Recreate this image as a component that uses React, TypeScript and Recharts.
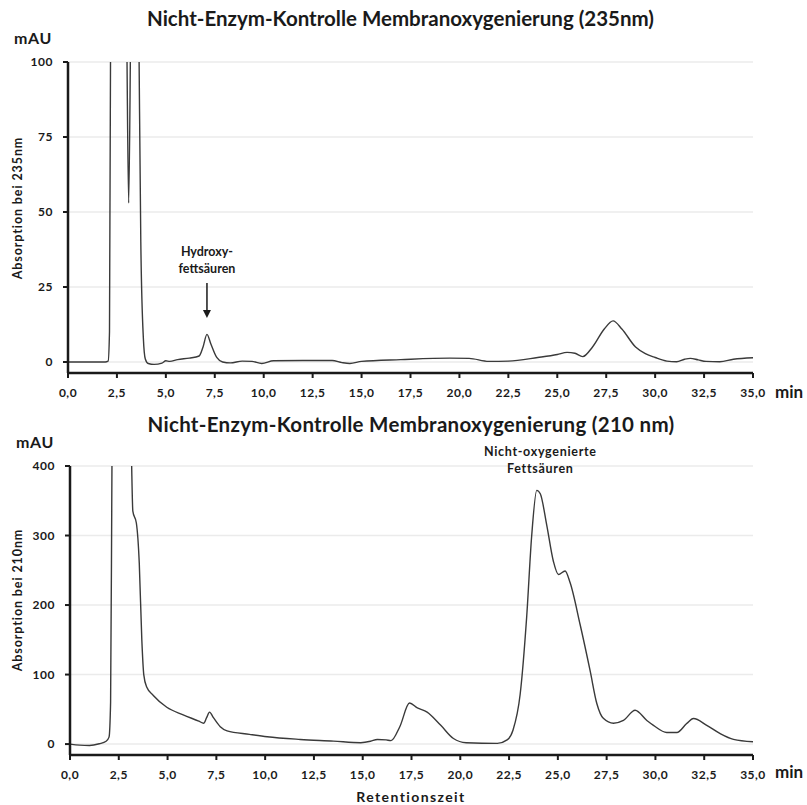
import React from "react";
import { LineChart, Line, XAxis, YAxis, CartesianGrid, ReferenceDot } from "recharts";

const FONT = "Lato, 'Open Sans', sans-serif";

const xTicks = [0, 2.5, 5, 7.5, 10, 12.5, 15, 17.5, 20, 22.5, 25, 27.5, 30, 32.5, 35];
const yTicks235 = [0, 25, 50, 75, 100];
const yTicks210 = [0, 100, 200, 300, 400];

// 235 nm trace (min / mAU)
const time235 = [
  0, 1.9, 2.05, 2.12, 2.2, 2.6, 3.0, 3.1, 3.2, 3.4, 3.62, 3.72, 3.85, 3.95, 4.1, 4.4, 4.8, 5.0, 5.2,
  5.6, 6.2, 6.7, 6.9, 7.1, 7.3, 7.6, 7.9, 8.3, 8.9, 9.4, 9.9, 10.5, 12.0, 13.5, 14.0, 14.4, 15.0,
  17.0, 19.5, 20.5, 21.5, 22.5, 24.0, 25.0, 25.5, 25.9, 26.3, 26.8, 27.4, 27.85, 28.3, 29.0, 29.5,
  30.0, 30.6, 31.1, 31.5, 31.8, 32.2, 32.6, 33.3, 34.0, 35.0,
];
const abs235 = [
  0, 0, 0.3, 10, 150, 250, 110, 53, 110, 250, 110, 40, 8, 1, -0.5, -0.8, -0.4, 0.4, 0.2,
  0.8, 1.3, 2, 5, 9.2, 6, 1.5, 0, -0.3, 0.3, 0.2, -0.5, 0.4, 0.5, 0.5, -0.2, -0.5, 0.2,
  0.8, 1.3, 1.2, 0.2, 0.3, 1.5, 2.5, 3.2, 2.9, 1.8, 5, 11, 13.7, 11, 5, 2.8,
  1.5, 0.3, 0.1, 0.9, 1.2, 0.7, 0.2, 0.1, 0.9, 1.4,
];

// 210 nm trace (min / mAU)
const time210 = [
  0, 0.5, 1.0, 1.5, 1.85, 2.0, 2.08, 2.15, 2.3, 2.7, 3.1, 3.16, 3.22, 3.4, 3.55, 3.68, 3.78, 3.93,
  4.27, 4.96, 5.8, 6.6, 6.85, 7.0, 7.15, 7.35, 7.7, 8.05, 9.2, 10.1, 11.8, 13.5, 14.9, 15.4, 15.75,
  16.2, 16.45, 16.9, 17.4, 17.8, 18.3, 19.0, 19.65, 20.3, 21.9, 22.4, 22.7, 23.07, 23.4, 23.66,
  23.92, 24.1, 24.43, 24.77, 25.03, 25.37, 25.63, 26.14, 26.65, 27.0, 27.33, 27.85, 28.36, 28.96,
  29.56, 29.9, 30.58, 31.1, 31.6, 31.95, 32.63, 33.32, 34.0, 35.0,
];
const abs210 = [
  0, -1.5, -2, 0.5, 4, 10, 60, 400, 900, 1200, 500, 400, 335, 318, 260, 150, 100, 82,
  70, 53, 42, 33, 30, 38, 46, 38, 25, 19, 14, 10.5, 6.7, 4.3, 2, 4, 6.7,
  6, 5, 25, 59, 52, 46, 27, 8, 2, 1, 6, 20, 72, 182, 300,
  365, 360, 315, 263, 244, 249, 232, 172, 106, 58, 37, 30, 34, 48.6,
  34, 27, 16.7, 16.7, 29.5, 36.7, 27, 15, 6.7, 3.3,
];

const data235 = time235.map((t, i) => ({ t, v: abs235[i] }));
const data210 = time210.map((t, i) => ({ t, v: abs210[i] }));

const fmt = (v: number) => v.toFixed(1).replace(".", ",");
const tickStyle = { fontSize: 12, fontWeight: 700, fill: "#1a1a1a", fontFamily: FONT, letterSpacing: 0.5 };
const axisStroke = { stroke: "#1a1a1a", strokeWidth: 2.5 };

const txt = (extra: React.CSSProperties): React.CSSProperties => ({
  position: "absolute",
  fontFamily: FONT,
  fontWeight: 700,
  color: "#1a1a1a",
  whiteSpace: "nowrap",
  lineHeight: 1,
  ...extra,
});

const HydroxyArrow = (p: any) => {
  const { cx, cy } = p;
  return (
    <g fontSize={12.5} fontWeight={700} fontFamily={FONT} fill="#1a1a1a" textAnchor="middle">
      <line x1={cx} y1={cy - 35} x2={cx} y2={cy - 4} stroke="#1a1a1a" strokeWidth={1.5} />
      <path d={`M${cx - 4},${cy - 8} L${cx + 4},${cy - 8} L${cx},${cy} Z`} fill="#1a1a1a" />
      <text x={cx} y={cy - 62}>Hydroxy-</text>
      <text x={cx} y={cy - 45}>fettsäuren</text>
    </g>
  );
};

const FattyLabel = (p: any) => {
  const { cx, cy } = p;
  return (
    <g fontSize={12.5} fontWeight={700} fontFamily={FONT} fill="#1a1a1a" textAnchor="middle" letterSpacing={0.7}>
      <text x={cx} y={cy - 16}>Nicht-oxygenierte</text>
      <text x={cx} y={cy + 1}>Fettsäuren</text>
    </g>
  );
};

export default function App() {
  return (
    <div style={{ position: "absolute", left: 0, top: 0, width: 807, height: 805, background: "#fff" }}>
      <div style={txt({ left: 0, width: 801, top: 8, fontSize: 20.5, textAlign: "center" })}>
        Nicht-Enzym-Kontrolle Membranoxygenierung (235nm)
      </div>
      <div style={txt({ left: 14, top: 30, fontSize: 16, letterSpacing: 0.6 })}>mAU</div>
      <div style={txt({ left: 775, top: 383, fontSize: 17 })}>min</div>
      <div
        style={txt({
          left: 18,
          top: 208,
          fontSize: 12.5,
          letterSpacing: 0.9,
          transform: "translate(-50%, -50%) rotate(-90deg)",
        })}
      >
        Absorption bei 235nm
      </div>

      <div style={{ position: "absolute", left: 0, top: 0 }}>
        <LineChart width={807} height={410} data={data235} margin={{ top: 62, right: 54, bottom: 7, left: 28 }}>
          <CartesianGrid vertical={false} stroke="#ebebeb" strokeWidth={1.5} />
          <XAxis
            dataKey="t"
            type="number"
            domain={[0, 35]}
            ticks={xTicks}
            tickFormatter={fmt}
            tick={tickStyle}
            tickSize={5}
            tickMargin={10}
            height={30}
            axisLine={axisStroke}
            tickLine={{ stroke: "#1a1a1a", strokeWidth: 2 }}
          />
          <YAxis
            type="number"
            domain={[-3.67, 100]}
            allowDataOverflow
            ticks={yTicks235}
            tick={tickStyle}
            tickSize={5}
            tickMargin={10}
            width={40}
            axisLine={axisStroke}
            tickLine={{ stroke: "#1a1a1a", strokeWidth: 2 }}
          />
          <Line
            type="monotone"
            dataKey="v"
            stroke="#3a3a3a"
            strokeWidth={1.4}
            dot={false}
            isAnimationActive={false}
          />
          <ReferenceDot x={7.1} y={14.7} r={0} ifOverflow="visible" shape={HydroxyArrow} />
        </LineChart>
      </div>

      <div style={txt({ left: 0, width: 822, top: 414, fontSize: 20.5, letterSpacing: 0.3, textAlign: "center" })}>
        Nicht-Enzym-Kontrolle Membranoxygenierung (210 nm)
      </div>
      <div style={txt({ left: 16, top: 434, fontSize: 16, letterSpacing: 0.6 })}>mAU</div>
      <div style={txt({ left: 775, top: 763, fontSize: 17 })}>min</div>
      <div
        style={txt({
          left: 18,
          top: 600,
          fontSize: 12.5,
          letterSpacing: 0.9,
          transform: "translate(-50%, -50%) rotate(-90deg)",
        })}
      >
        Absorption bei 210nm
      </div>
      <div style={txt({ left: 0, width: 822, top: 790, fontSize: 14, letterSpacing: 1.4, textAlign: "center" })}>
        Retentionszeit
      </div>

      <div style={{ position: "absolute", left: 0, top: 410 }}>
        <LineChart width={807} height={395} data={data210} margin={{ top: 56, right: 54, bottom: 20, left: 30 }}>
          <CartesianGrid vertical={false} stroke="#ebebeb" strokeWidth={1.5} />
          <XAxis
            dataKey="t"
            type="number"
            domain={[0, 35]}
            ticks={xTicks}
            tickFormatter={fmt}
            tick={tickStyle}
            tickSize={5}
            tickMargin={10}
            height={30}
            axisLine={axisStroke}
            tickLine={{ stroke: "#1a1a1a", strokeWidth: 2 }}
          />
          <YAxis
            type="number"
            domain={[-15.7, 400]}
            allowDataOverflow
            ticks={yTicks210}
            tick={tickStyle}
            tickSize={5}
            tickMargin={10}
            width={40}
            axisLine={axisStroke}
            tickLine={{ stroke: "#1a1a1a", strokeWidth: 2 }}
          />
          <Line
            type="monotone"
            dataKey="v"
            stroke="#3a3a3a"
            strokeWidth={1.4}
            dot={false}
            isAnimationActive={false}
          />
          <ReferenceDot x={24.1} y={391} r={0} ifOverflow="visible" shape={FattyLabel} />
        </LineChart>
      </div>
    </div>
  );
}
